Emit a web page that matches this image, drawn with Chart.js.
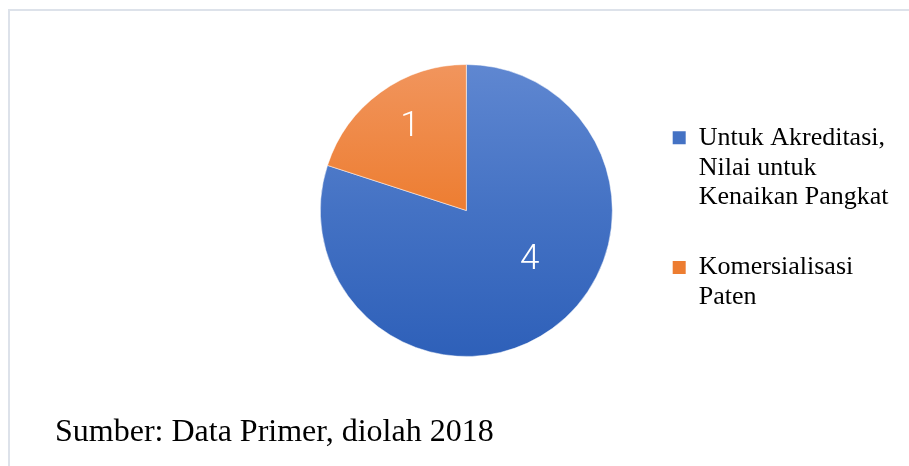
<!DOCTYPE html>
<html lang="id">
<head>
<meta charset="UTF-8">
<title>Pie Paten</title>
<style>
  body { margin: 0; background: #fff; }
  #wrap { position: relative; width: 909px; height: 466px; overflow: hidden; }
  #frame { position: absolute; left: 8px; top: 9px; right: -10px; bottom: -10px; border: 2px solid #dde2ea; }
  #chart { position: absolute; left: 0; top: 0; }
  #sumber { position: absolute; left: 55px; top: 412px; font: 32px "Liberation Serif", "Times New Roman", serif; color: #000; white-space: nowrap; }
</style>
</head>
<body>
<div id="wrap">
  <div id="frame"></div>
  <canvas id="chart" width="909" height="466"></canvas>
  <div id="sumber">Sumber: Data Primer, diolah 2018</div>
</div>
<script src="https://cdn.jsdelivr.net/npm/chart.js"></script>
<script>
  // data
  const categories = [
    ['Untuk Akreditasi,', 'Nilai untuk', 'Kenaikan Pangkat'],
    ['Komersialisasi', 'Paten']
  ];
  const values = [4, 1];
  const baseColors = ['#4472c4', '#ed7d31'];
  const topColors = ['#5f87d1', '#f1955d'];
  const bottomColors = ['#2e60b9', '#df6012'];

  const R = 146;

  // gradient fill like the Excel style (light top, dark bottom)
  function sliceFill(ctx) {
    const chart = ctx.chart;
    const area = chart.chartArea;
    const i = ctx.dataIndex;
    if (!area) return baseColors[i];
    const cy = (area.top + area.bottom) / 2;
    const g = chart.ctx.createLinearGradient(0, cy - R, 0, cy + R);
    g.addColorStop(0, topColors[i]);
    g.addColorStop(0.5, baseColors[i]);
    g.addColorStop(1, bottomColors[i]);
    return g;
  }

  // value labels inside the slices
  const sliceLabels = {
    id: 'sliceLabels',
    afterDatasetsDraw(chart, args, opts) {
      const c = chart.ctx;
      const meta = chart.getDatasetMeta(0);
      c.save();
      c.fillStyle = '#fff';
      c.font = '300 35px Roboto, "DejaVu Sans", sans-serif';
      c.textAlign = 'center';
      c.textBaseline = 'middle';
      meta.data.forEach((arc, i) => {
        const p = arc.getProps(['x', 'y', 'startAngle', 'endAngle', 'outerRadius'], true);
        const tweak = opts.tweak[i] || { shift: 0, dist: 0.62 };
        const a = (p.startAngle + p.endAngle) / 2 + tweak.shift * Math.PI / 180;
        const r = p.outerRadius * tweak.dist;
        c.fillText(String(values[i]), p.x + Math.cos(a) * r, p.y + Math.sin(a) * r);
      });
      c.restore();
    }
  };

  new Chart(document.getElementById('chart'), {
    type: 'pie',
    data: {
      labels: categories,
      datasets: [{
        data: values,
        backgroundColor: sliceFill,
        borderColor: '#ffffff',
        borderWidth: 0.5,
        hoverOffset: 0
      }]
    },
    options: {
      responsive: false,
      animation: false,
      radius: R,
      layout: { padding: { left: 270, right: 14, top: 60, bottom: 105 } },
      plugins: {
        tooltip: { enabled: false },
        sliceLabels: { tweak: [{ shift: -16, dist: 0.55 }, { shift: 2, dist: 0.69 }] },
        legend: {
          position: 'right',
          title: { display: true, text: '', font: { size: 10, lineHeight: 1.2 }, padding: { top: 6, bottom: 0 } },
          labels: {
            color: '#000',
            font: { family: '"Liberation Serif", "Times New Roman", serif', size: 26, lineHeight: 1.15 },
            boxWidth: 13,
            boxHeight: 13,
            padding: 10,
            generateLabels(chart) {
              return categories.map((lines, i) => ({
                text: i < categories.length - 1 ? lines.concat(['']) : lines,
                fillStyle: baseColors[i],
                strokeStyle: baseColors[i],
                fontColor: '#000',
                lineWidth: 0,
                hidden: false,
                index: i
              }));
            }
          }
        }
      }
    },
    plugins: [sliceLabels]
  });
</script>
</body>
</html>
